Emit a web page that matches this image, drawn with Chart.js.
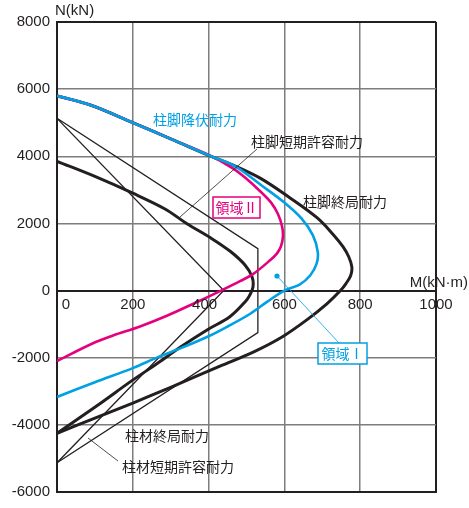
<!DOCTYPE html>
<html>
<head>
<meta charset="utf-8">
<script src="https://cdn.jsdelivr.net/npm/chart.js@4/dist/chart.umd.min.js"></script>
<style>
  body { margin: 0; background: #fff; }
  #wrap { width: 469px; height: 508px; position: relative; }
</style>
</head>
<body>
<div id="wrap"><canvas id="mnChart"></canvas></div>
<script>
const ctx = document.getElementById('mnChart').getContext('2d');

// tick values
const xTicks = [0, 200, 400, 600, 800, 1000];
const yTicks = [-6000, -4000, -2000, 0, 2000, 4000, 6000, 8000];

// 柱脚降伏耐力 (cyan)
const yieldM = [0, 90, 200, 300, 400, 470, 540, 600, 645, 675, 688, 685, 668, 640, 600, 555, 510, 450, 400, 330, 265, 200, 100, 0];
const yieldN = [5800, 5520, 5000, 4520, 4030, 3700, 3130, 2620, 2150, 1650, 1150, 800, 450, 180, 0, -330, -690, -1070, -1360, -1700, -1990, -2310, -2730, -3170];

// 領域II boundary (magenta)
const region2M = [0, 90, 200, 300, 400, 464, 500, 536, 565, 583, 594, 596, 591, 580, 562, 517, 483, 433, 364, 290, 219, 148, 95, 0];
const region2N = [5800, 5520, 5000, 4520, 4040, 3640, 3330, 2960, 2620, 2280, 1900, 1600, 1320, 1100, 900, 490, 280, 0, -370, -750, -1070, -1340, -1570, -2100];

// 柱脚終局耐力 (thick black, outer)
const baseUltM = [0, 90, 200, 300, 400, 460, 536, 615, 686, 728, 755, 770, 778, 775, 762, 748, 712, 660, 596, 522, 430, 300, 200, 100, 0];
const baseUltN = [5800, 5520, 5000, 4520, 4030, 3760, 3349, 2759, 2170, 1680, 1300, 1000, 700, 450, 200, 0, -395, -866, -1367, -1810, -2252, -2880, -3350, -3800, -4250];

// 柱材終局耐力 (thick black, inner)
const memberUltM = [0, 100, 200, 285, 343, 404, 457, 496, 515, 517, 508, 496, 456, 398, 325, 266, 193, 113, 0];
const memberUltN = [3850, 3400, 2900, 2430, 1990, 1580, 1170, 760, 400, 100, -150, -340, -780, -1160, -1690, -2160, -2720, -3370, -4250];

// 柱材短期許容耐力 (thin)
const memberShortM = [0, 440, 0];
const memberShortN = [5130, 0, -5130];

// 柱脚短期許容耐力 (thin)
const baseShortM = [0, 530, 530, 0];
const baseShortN = [5130, 1250, -1250, -5130];

const CYAN = '#00a0e4';
const MAGENTA = '#e5007e';
const INK = '#231f20';
const JP = '"Noto Sans CJK JP", sans-serif';
const LAT = '"Liberation Sans", Arial, sans-serif';

function pts(ms, ns) {
    return ms.map((m, i) => ({ x: m, y: ns[i] }));
}

function line(data, color, width, tension) {
    return {
        data: data,
        showLine: true,
        borderColor: color,
        borderWidth: width,
        pointRadius: 0,
        tension: tension,
        fill: false
    };
}

function text(c, str, x, y, color, font, align) {
    c.fillStyle = color;
    c.font = font;
    c.textAlign = align || 'left';
    c.textBaseline = 'middle';
    c.fillText(str, x, y);
}

function seg(c, x1, y1, x2, y2, color, w) {
    c.strokeStyle = color;
    c.lineWidth = w;
    c.beginPath();
    c.moveTo(x1, y1);
    c.lineTo(x2, y2);
    c.stroke();
}

const labelsPlugin = {
    id: 'labels',
    afterDatasetsDraw(chart) {
        const c = chart.ctx;
        const xs = chart.scales.x;
        const ys = chart.scales.y;
        const y0 = ys.getPixelForValue(0);
        c.save();

        // x tick labels sit under the N=0 line
        xTicks.forEach(v => {
            const px = xs.getPixelForValue(v);
            if (v === 0) {
                text(c, '0', px + 9, y0 + 14, INK, '15px ' + LAT, 'center');
            } else if (v === 400) {
                text(c, String(v), px - 4, y0 + 14, INK, '15px ' + LAT, 'center');
            } else {
                text(c, String(v), px, y0 + 14, INK, '15px ' + LAT, 'center');
            }
        });

        // axis titles
        text(c, 'N(kN)', 55, 11, INK, '15px ' + LAT);
        text(c, 'M(kN·m)', 468, 283, INK, '15px ' + LAT, 'right');

        // curve labels
        text(c, '柱脚降伏耐力', 153, 120, CYAN, '14px ' + JP);
        text(c, '柱脚短期許容耐力', 251, 142, INK, '14px ' + JP);
        seg(c, 257, 149, 180, 217, INK, 0.8);
        text(c, '柱脚終局耐力', 303, 202, INK, '14px ' + JP);
        text(c, '柱材終局耐力', 125, 436, INK, '14px ' + JP);
        text(c, '柱材短期許容耐力', 122, 467, INK, '14px ' + JP);
        seg(c, 118, 461, 88, 438, INK, 0.8);

        // 領域II box
        c.fillStyle = '#fff';
        c.fillRect(213, 197, 47, 21);
        c.strokeStyle = MAGENTA;
        c.lineWidth = 1.5;
        c.strokeRect(213, 197, 47, 21);
        text(c, '領域Ⅱ', 236.5, 208, MAGENTA, '14px ' + JP, 'center');

        // 領域I marker + box
        seg(c, 277, 276, 339, 343, CYAN, 0.8);
        c.fillStyle = CYAN;
        c.beginPath();
        c.arc(277, 276, 2.6, 0, Math.PI * 2);
        c.fill();
        c.fillStyle = '#fff';
        c.fillRect(318, 343, 49, 21);
        c.strokeStyle = CYAN;
        c.lineWidth = 1.5;
        c.strokeRect(318, 343, 49, 21);
        text(c, '領域Ⅰ', 342.5, 354, CYAN, '14px ' + JP, 'center');

        c.restore();
    }
};

const mnChart = new Chart(ctx, {
    type: 'scatter',
    data: {
        datasets: [
            line(pts(yieldM, yieldN), CYAN, 2.6, 0.35),
            line(pts(region2M, region2N), MAGENTA, 2.6, 0.35),
            line(pts(baseUltM, baseUltN), INK, 3, 0.35),
            line(pts(memberUltM, memberUltN), INK, 3, 0.35),
            line(pts(memberShortM, memberShortN), INK, 1.3, 0),
            line(pts(baseShortM, baseShortN), INK, 1.3, 0)
        ]
    },
    options: {
        responsive: true,
        maintainAspectRatio: false,
        animation: false,
        layout: { padding: { top: 22, right: 33, bottom: 11, left: 0 } },
        plugins: {
            legend: { display: false },
            tooltip: { enabled: false }
        },
        scales: {
            x: {
                type: 'linear',
                min: 0,
                max: 1000,
                ticks: { display: false, stepSize: 200 },
                afterBuildTicks: s => { s.ticks = xTicks.map(v => ({ value: v })); },
                afterFit: s => { s.height = 0; },
                grid: {
                    drawTicks: false,
                    color: c => (c.tick.value === 0 || c.tick.value === 1000) ? INK : '#7d7d7d',
                    lineWidth: c => (c.tick.value === 0 || c.tick.value === 1000) ? 2 : 1.5
                },
                border: { display: true, color: INK, width: 2 }
            },
            y: {
                type: 'linear',
                min: -6000,
                max: 8000,
                afterBuildTicks: s => { s.ticks = yTicks.map(v => ({ value: v })); },
                afterFit: s => { s.width = 57; },
                ticks: {
                    padding: 7,
                    color: INK,
                    font: { family: LAT, size: 15 },
                    callback: v => String(v)
                },
                grid: {
                    drawTicks: false,
                    color: c => (c.tick.value === 0 || c.tick.value === 8000) ? INK : '#7d7d7d',
                    lineWidth: c => (c.tick.value === 0 || c.tick.value === 8000) ? 2 : 1.5
                },
                border: { display: true, color: INK, width: 2 }
            }
        }
    },
    plugins: [labelsPlugin]
});
</script>
</body>
</html>
